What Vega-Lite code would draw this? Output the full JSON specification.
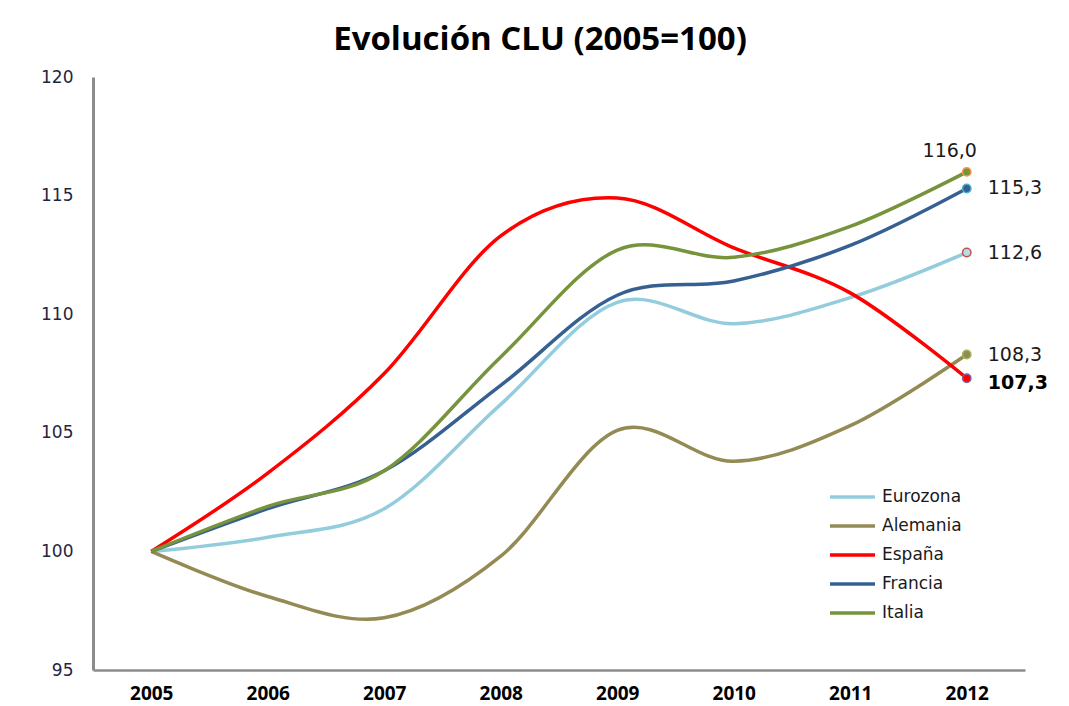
{
  "$schema": "https://vega.github.io/schema/vega-lite/v6.json",
  "autosize": "none",
  "width": 932,
  "height": 593,
  "padding": {"left": 93, "top": 77, "right": 44, "bottom": 36},
  "background": "white",
  "title": {
    "text": "Evolución CLU (2005=100)",
    "font": "Open Sans",
    "fontSize": 33,
    "fontWeight": "bold",
    "color": "#000000",
    "anchor": "middle",
    "dx": -19,
    "dy": 40,
    "baseline": "alphabetic",
    "offset": 25
  },
  "config": {
    "view": {"stroke": null},
    "locale": {"number": {"decimal": ",", "thousands": ".", "grouping": [3], "currency": ["", " €"]}}
  },
  "data": {
    "values": [
      {"year": "2005", "pais": "Eurozona", "clu": 100.0},
      {"year": "2006", "pais": "Eurozona", "clu": 100.6},
      {"year": "2007", "pais": "Eurozona", "clu": 101.8},
      {"year": "2008", "pais": "Eurozona", "clu": 106.2},
      {"year": "2009", "pais": "Eurozona", "clu": 110.5},
      {"year": "2010", "pais": "Eurozona", "clu": 109.6},
      {"year": "2011", "pais": "Eurozona", "clu": 110.7},
      {"year": "2012", "pais": "Eurozona", "clu": 112.6},
      {"year": "2005", "pais": "Alemania", "clu": 100.0},
      {"year": "2006", "pais": "Alemania", "clu": 98.1},
      {"year": "2007", "pais": "Alemania", "clu": 97.2},
      {"year": "2008", "pais": "Alemania", "clu": 99.8},
      {"year": "2009", "pais": "Alemania", "clu": 105.1},
      {"year": "2010", "pais": "Alemania", "clu": 103.8},
      {"year": "2011", "pais": "Alemania", "clu": 105.3},
      {"year": "2012", "pais": "Alemania", "clu": 108.3},
      {"year": "2005", "pais": "España", "clu": 100.0},
      {"year": "2006", "pais": "España", "clu": 103.3},
      {"year": "2007", "pais": "España", "clu": 107.5},
      {"year": "2008", "pais": "España", "clu": 113.3},
      {"year": "2009", "pais": "España", "clu": 114.9},
      {"year": "2010", "pais": "España", "clu": 112.8},
      {"year": "2011", "pais": "España", "clu": 110.9},
      {"year": "2012", "pais": "España", "clu": 107.3},
      {"year": "2005", "pais": "Francia", "clu": 100.0},
      {"year": "2006", "pais": "Francia", "clu": 101.8},
      {"year": "2007", "pais": "Francia", "clu": 103.4},
      {"year": "2008", "pais": "Francia", "clu": 107.0},
      {"year": "2009", "pais": "Francia", "clu": 110.8},
      {"year": "2010", "pais": "Francia", "clu": 111.4},
      {"year": "2011", "pais": "Francia", "clu": 112.9},
      {"year": "2012", "pais": "Francia", "clu": 115.3},
      {"year": "2005", "pais": "Italia", "clu": 100.0},
      {"year": "2006", "pais": "Italia", "clu": 101.9},
      {"year": "2007", "pais": "Italia", "clu": 103.4},
      {"year": "2008", "pais": "Italia", "clu": 108.2},
      {"year": "2009", "pais": "Italia", "clu": 112.7},
      {"year": "2010", "pais": "Italia", "clu": 112.4},
      {"year": "2011", "pais": "Italia", "clu": 113.7},
      {"year": "2012", "pais": "Italia", "clu": 116.0}
    ]
  },
  "encoding": {
    "x": {
      "field": "year",
      "type": "ordinal",
      "scale": {"type": "point", "padding": 0.5},
      "axis": {
        "title": null,
        "labelAngle": 0,
        "ticks": false,
        "labelPadding": 14,
        "labelFont": "Open Sans",
        "labelFontSize": 19,
        "labelFontWeight": "bold",
        "labelColor": "#000000",
        "domainColor": "#8c8c8c",
        "domainWidth": 2.5,
        "grid": false
      }
    },
    "y": {
      "field": "clu",
      "type": "quantitative",
      "scale": {"domain": [95, 120], "nice": false, "zero": false},
      "axis": {
        "title": null,
        "values": [95, 100, 105, 110, 115, 120],
        "ticks": false,
        "labelPadding": 20,
        "labelFont": "DejaVu Sans",
        "labelFontSize": 17,
        "labelColor": "#1f2640",
        "domainColor": "#8c8c8c",
        "domainWidth": 3,
        "grid": false
      }
    }
  },
  "layer": [
    {
      "mark": {"type": "line", "interpolate": "cardinal", "strokeWidth": 3.5},
      "encoding": {
        "color": {
          "field": "pais",
          "type": "nominal",
          "scale": {
            "domain": ["Eurozona", "Alemania", "España", "Francia", "Italia"],
            "range": ["#93CDDD", "#948A54", "#FF0000", "#376092", "#77933C"]
          },
          "legend": {
            "title": null,
            "orient": "none",
            "legendX": 742,
            "legendY": 399,
            "symbolType": "M-1.37,0H1",
            "symbolSize": 1444,
            "symbolStrokeWidth": 3.5,
            "labelFont": "DejaVu Sans",
            "labelFontSize": 17,
            "labelColor": "#1a1a1a",
            "rowPadding": 0,
            "labelOffset": 5
          }
        }
      }
    },
    {
      "transform": [{"filter": "datum.year == '2012'"}],
      "mark": {"type": "point", "filled": true, "size": 70, "strokeWidth": 1.5, "opacity": 1},
      "encoding": {
        "fill": {
          "field": "pais",
          "type": "nominal",
          "scale": {
            "domain": ["Eurozona", "Alemania", "España", "Francia", "Italia"],
            "range": ["#B7DEE8", "#948A54", "#FF0000", "#376092", "#77933C"]
          },
          "legend": null
        },
        "stroke": {
          "field": "pais",
          "type": "nominal",
          "scale": {
            "domain": ["Eurozona", "Alemania", "España", "Francia", "Italia"],
            "range": ["#C0504D", "#9BBB59", "#8064A2", "#4BACC6", "#F79646"]
          },
          "legend": null
        }
      }
    },
    {
      "transform": [{"filter": "datum.year == '2012' && (datum.pais == 'Eurozona' || datum.pais == 'Alemania' || datum.pais == 'Francia')"}],
      "mark": {"type": "text", "align": "left", "baseline": "middle", "dx": 21, "font": "DejaVu Sans", "fontSize": 19, "color": "#1a1a1a"},
      "encoding": {"text": {"field": "clu", "type": "quantitative", "format": ".1f"}}
    },
    {
      "transform": [{"filter": "datum.year == '2012' && datum.pais == 'Italia'"}],
      "mark": {"type": "text", "align": "center", "baseline": "middle", "dx": -17, "dy": -21, "font": "DejaVu Sans", "fontSize": 19, "color": "#1a1a1a"},
      "encoding": {"text": {"field": "clu", "type": "quantitative", "format": ".1f"}}
    },
    {
      "transform": [{"filter": "datum.year == '2012' && datum.pais == 'España'"}],
      "mark": {"type": "text", "align": "left", "baseline": "middle", "dx": 21, "dy": 5, "font": "DejaVu Sans", "fontSize": 19, "fontWeight": "bold", "color": "#000000"},
      "encoding": {"text": {"field": "clu", "type": "quantitative", "format": ".1f"}}
    }
  ]
}
